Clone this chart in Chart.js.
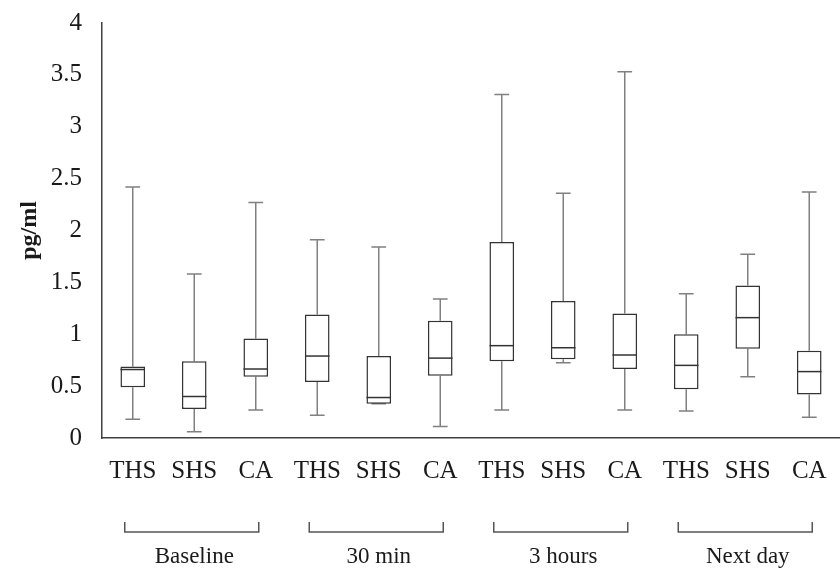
<!DOCTYPE html>
<html>
<head>
<meta charset="utf-8">
<script src="https://cdn.jsdelivr.net/npm/chart.js@4.4.1/dist/chart.umd.min.js"></script>
<style>
  html, body { margin: 0; padding: 0; background: #fff; }
  #wrap { width: 840px; height: 569px; }
</style>
</head>
<body>
<div id="wrap"><canvas id="grafico" width="840" height="569"></canvas></div>
<script>
const categorias = ['THS', 'SHS', 'CA', 'THS', 'SHS', 'CA', 'THS', 'SHS', 'CA', 'THS', 'SHS', 'CA'];
const grupos = ['Baseline', '30 min', '3 hours', 'Next day'];

// box plot values per category (pg/ml)
const minimo  = [0.18, 0.06, 0.27, 0.22, 0.33, 0.11, 0.27, 0.725, 0.27, 0.26, 0.59, 0.20];
const q1      = [0.49, 0.28, 0.59, 0.54, 0.33, 0.60, 0.74, 0.76, 0.665, 0.47, 0.86, 0.42];
const mediana = [0.66, 0.40, 0.665, 0.79, 0.39, 0.77, 0.89, 0.87, 0.80, 0.70, 1.16, 0.64];
const q3      = [0.69, 0.74, 0.96, 1.19, 0.79, 1.13, 1.89, 1.32, 1.20, 1.00, 1.47, 0.84];
const maximo  = [2.42, 1.58, 2.27, 1.91, 1.84, 1.34, 3.31, 2.36, 3.53, 1.39, 1.77, 2.37];

const yTicks = [0, 0.5, 1, 1.5, 2, 2.5, 3, 3.5, 4];

const serif = "'Liberation Serif', 'Times New Roman', serif";

const partesBox = {
    id: 'partesBox',
    beforeDatasetsDraw(chart) {
        const { ctx, scales: { x, y } } = chart;
        const meta = chart.getDatasetMeta(0);
        ctx.save();
        ctx.strokeStyle = '#808080';
        ctx.lineWidth = 1.5;
        meta.data.forEach((bar, i) => {
            const cx = x.getPixelForValue(i);
            const cap = bar.width * 0.3;
            ctx.beginPath();
            ctx.moveTo(cx, y.getPixelForValue(minimo[i]));
            ctx.lineTo(cx, y.getPixelForValue(q1[i]));
            ctx.moveTo(cx, y.getPixelForValue(q3[i]));
            ctx.lineTo(cx, y.getPixelForValue(maximo[i]));
            ctx.moveTo(cx - cap, y.getPixelForValue(minimo[i]));
            ctx.lineTo(cx + cap, y.getPixelForValue(minimo[i]));
            ctx.moveTo(cx - cap, y.getPixelForValue(maximo[i]));
            ctx.lineTo(cx + cap, y.getPixelForValue(maximo[i]));
            ctx.stroke();
        });
        ctx.restore();
    },
    afterDatasetsDraw(chart) {
        const { ctx, chartArea, scales: { x, y } } = chart;
        const meta = chart.getDatasetMeta(0);
        ctx.save();
        ctx.strokeStyle = '#333333';
        ctx.lineWidth = 1.5;
        meta.data.forEach((bar, i) => {
            const cx = x.getPixelForValue(i);
            const my = y.getPixelForValue(mediana[i]);
            ctx.beginPath();
            ctx.moveTo(cx - bar.width / 2, my);
            ctx.lineTo(cx + bar.width / 2, my);
            ctx.stroke();
        });
        // brackets under each group of three
        ctx.strokeStyle = '#555555';
        ctx.lineWidth = 1.5;
        const by = chartArea.bottom + 94;
        grupos.forEach((g, k) => {
            const x0 = x.getPixelForValue(k * 3) - 8;
            const x1 = x.getPixelForValue(k * 3 + 2) + 3;
            ctx.beginPath();
            ctx.moveTo(x0, by - 10);
            ctx.lineTo(x0, by);
            ctx.lineTo(x1, by);
            ctx.lineTo(x1, by - 10);
            ctx.stroke();
        });
        ctx.restore();
    }
};

const ctx = document.getElementById('grafico').getContext('2d');

const grafico = new Chart(ctx, {
    type: 'bar',
    data: {
        labels: categorias,
        datasets: [{
            data: q1.map((v, i) => [v, q3[i]]),
            backgroundColor: '#ffffff',
            borderColor: '#333333',
            borderWidth: 1.5,
            borderSkipped: false,
            barPercentage: 0.4,
            categoryPercentage: 1
        }]
    },
    options: {
        responsive: false,
        animation: false,
        layout: { padding: { top: 23, right: -4, left: 15, bottom: 0 } },
        plugins: {
            legend: { display: false },
            tooltip: { enabled: false }
        },
        scales: {
            x: {
                type: 'category',
                position: 'bottom',
                weight: 1,
                afterFit(axis) {
                    axis.height = 46;
                    axis.paddingRight = 0;
                },
                grid: { display: false, drawTicks: false },
                border: { display: true, color: '#404040', width: 1.5 },
                ticks: {
                    color: '#1a1a1a',
                    font: { family: serif, size: 25 },
                    padding: 18,
                    maxRotation: 0,
                    autoSkip: false
                }
            },
            grupo: {
                type: 'category',
                labels: grupos,
                position: 'bottom',
                weight: 2,
                offset: true,
                afterFit(axis) {
                    axis.height = 85;
                    axis.paddingRight = 0;
                },
                grid: {
                    display: true,
                    drawOnChartArea: false,
                    drawTicks: true,
                    tickLength: 59,
                    tickColor: 'rgba(0,0,0,0)'
                },
                border: { display: false },
                ticks: {
                    color: '#1a1a1a',
                    font: { family: serif, size: 23 },
                    padding: 0,
                    maxRotation: 0,
                    autoSkip: false
                }
            },
            y: {
                min: 0,
                max: 4,
                afterBuildTicks(axis) {
                    axis.ticks = yTicks.map(v => ({ value: v }));
                },
                afterFit(axis) {
                    axis.width = 87;
                    axis.paddingTop = 0;
                    axis.paddingBottom = 0;
                },
                grid: { display: false, drawTicks: false },
                border: { display: true, color: '#404040', width: 1.5 },
                ticks: {
                    color: '#1a1a1a',
                    font: { family: serif, size: 25 },
                    padding: 20,
                    callback: v => String(v)
                },
                title: {
                    display: true,
                    text: 'pg/ml',
                    color: '#1a1a1a',
                    font: { family: serif, size: 24, weight: 'bold' },
                    padding: { top: 0, bottom: 2 }
                }
            }
        }
    },
    plugins: [partesBox]
});
</script>
</body>
</html>
